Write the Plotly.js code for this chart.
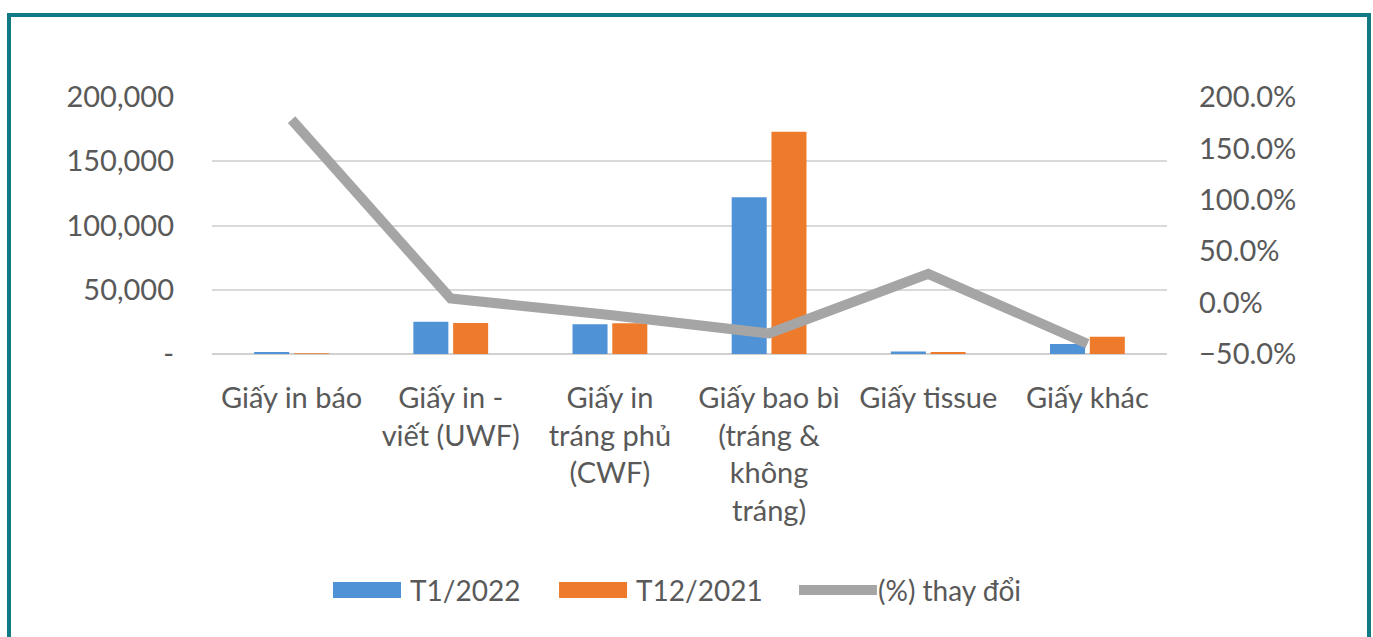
<!DOCTYPE html>
<html><head><meta charset="utf-8">
<script src="https://cdn.plot.ly/plotly-3.0.1.min.js"></script>
<style>
html,body{margin:0;padding:0;background:#fff;overflow:hidden;}
#chart{width:1373px;height:637px;}
#frame{position:absolute;left:7px;top:13px;width:1356px;height:700px;border:4px solid #127a85;pointer-events:none;}
</style></head>
<body>
<div id="chart"></div>
<div id="frame"></div>
<script>
const categories = ["Giấy in báo", "Giấy in -<br>viết (UWF)", "Giấy in<br>tráng phủ<br>(CWF)", "Giấy bao bì<br>(tráng &<br>không<br>tráng)", "Giấy tissue", "Giấy khác"];
const t1_2022 = [1500, 25100, 23100, 121900, 1900, 7800];
const t12_2021 = [540, 24100, 23900, 173000, 1500, 13500];
const pctChange = [1.78, 0.04, -0.12, -0.30, 0.28, -0.40];
const leftTickVals = [0, 50000, 100000, 150000, 200000];
const leftTickText = ["-", "50,000", "100,000", "150,000", "200,000"];
const rightTickVals = [-0.5, 0, 0.5, 1.0, 1.5, 2.0];
const seriesNames = ["T1/2022", "T12/2021", "(%) thay đổi"];
const seriesColors = ["#4f92d6", "#ee7a2c", "#a5a5a5"];

const FONT = "Lato, 'Liberation Sans', sans-serif";
const TXT = "#595959";

const traces = [
  {type:"bar", name:seriesNames[0], x:categories, y:t1_2022, marker:{color:seriesColors[0]}, yaxis:"y"},
  {type:"bar", name:seriesNames[1], x:categories, y:t12_2021, marker:{color:seriesColors[1]}, yaxis:"y"},
  {type:"scatter", mode:"lines", name:seriesNames[2], x:categories, y:pctChange, yaxis:"y2",
   line:{color:seriesColors[2], width:10}}
];

// custom Excel-style legend (paper coordinates)
const legY0 = -0.887, legY1 = -0.949, legYc = -0.918;
const legendShapes = [
  {type:"rect", xref:"paper", yref:"paper", x0:0.1267, x1:0.1979, y0:legY0, y1:legY1, fillcolor:seriesColors[0], line:{width:0}},
  {type:"rect", xref:"paper", yref:"paper", x0:0.3634, x1:0.4346, y0:legY0, y1:legY1, fillcolor:seriesColors[1], line:{width:0}},
  {type:"line", xref:"paper", yref:"paper", x0:0.6147, x1:0.6963, y0:legYc, y1:legYc, line:{color:seriesColors[2], width:10}}
];
const legendAnn = [
  {text:seriesNames[0], x:0.2052, y:legYc},
  {text:seriesNames[1], x:0.4419, y:legYc},
  {text:seriesNames[2], x:0.6950, y:legYc}
].map(a => Object.assign({xref:"paper", yref:"paper", xanchor:"left", yanchor:"middle", showarrow:false,
   font:{family:FONT, size:28, color:TXT}}, a));

const layout = {
  width:1373, height:637,
  margin:{l:212, r:206, t:97, b:283},
  paper_bgcolor:"#fff", plot_bgcolor:"#fff",
  font:{family:FONT, size:29, color:TXT},
  barmode:"group", bargap:0.5, bargroupgap:0.12,
  showlegend:false,
  shapes:legendShapes,
  annotations:legendAnn,
  xaxis:{showgrid:false, showline:false, ticks:"", ticklabelstandoff:24, tickfont:{family:FONT,size:29,color:TXT}},
  yaxis:{range:[0,200000], tickvals:leftTickVals, ticktext:leftTickText, showgrid:true, gridcolor:"#d9d9d9", gridwidth:2,
         zeroline:true, zerolinecolor:"#d0d0d0", zerolinewidth:2, showline:false, ticks:"", ticklabelstandoff:37,
         tickfont:{family:FONT,size:29,color:TXT}},
  yaxis2:{range:[-0.5,2.0], overlaying:"y", side:"right", tickvals:rightTickVals, tickformat:".1%", showgrid:false,
          zeroline:false, showline:false, ticks:"", ticklabelstandoff:31, tickfont:{family:FONT,size:29,color:TXT}}
};

Plotly.newPlot("chart", traces, layout, {displayModeBar:false, staticPlot:true});
</script>
</body></html>
